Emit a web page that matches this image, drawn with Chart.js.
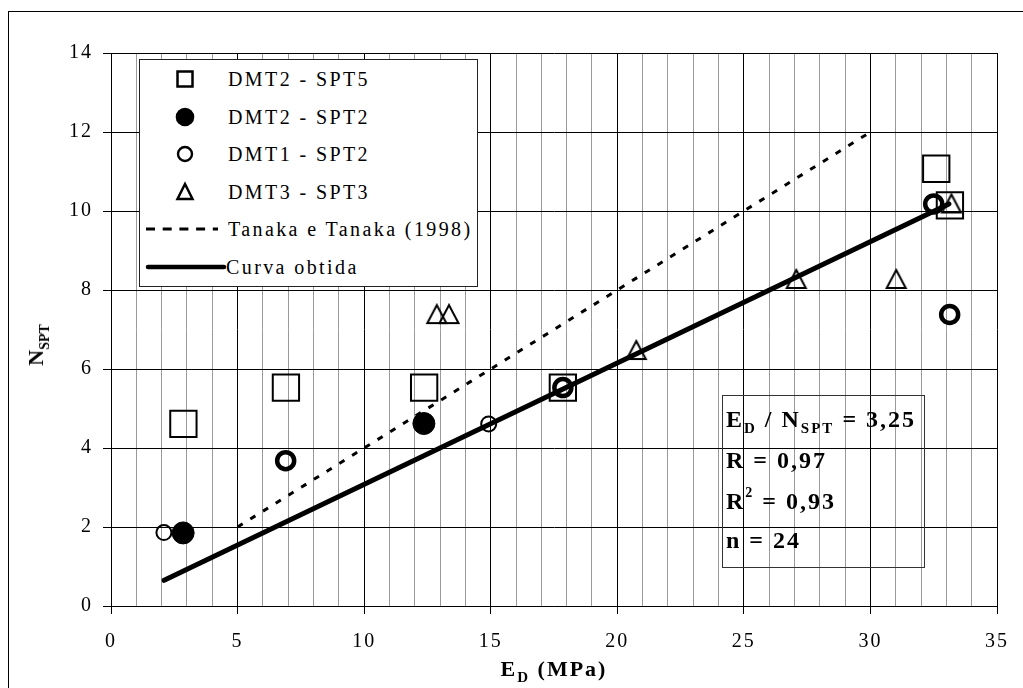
<!DOCTYPE html>
<html lang="pt">
<head>
<meta charset="utf-8">
<title>NSPT x ED</title>
<script src="https://cdn.jsdelivr.net/npm/chart.js@4.4.1/dist/chart.umd.min.js"></script>
<style>
  html, body { margin: 0; padding: 0; background: #fff; }
  #wrap { position: relative; width: 1023px; height: 688px; overflow: hidden;
          font-family: "Liberation Serif", "Times New Roman", serif; color: #000; }
  #moldura { position: absolute; left: 8px; top: 11px; width: 1100px; height: 800px;
             border-left: 1px solid #000; border-top: 1px solid #000; }
  canvas { position: absolute; left: 0; top: 0; }
  #legenda { position: absolute; left: 139px; top: 59px; width: 339px; height: 228px;
             box-sizing: border-box; background: #fff; border: 1px solid #222; }
  #legenda .linha { position: absolute; left: 0; height: 24px; width: 337px; }
  #legenda svg { position: absolute; left: 0; top: 0; }
  #legenda span { position: absolute; left: 88px; top: 0; font-size: 20px; line-height: 24px;
                  letter-spacing: 2.4px; white-space: nowrap; }
  #estat { position: absolute; left: 722px; top: 395px; width: 203px; height: 173px;
           box-sizing: border-box; border: 1px solid #333; }
  #estat div { position: absolute; left: 3px; font-size: 24px; font-weight: bold; line-height: 28px;
               letter-spacing: 2px; white-space: nowrap; }
  sub, sup { line-height: 0; font-size: 15px; }
  #estat sub { vertical-align: -6px; }
  #estat sup { vertical-align: 12px; font-size: 14px; }
  #tituloX { position: absolute; left: 554px; top: 658px; transform: translateX(-50%);
             font-size: 22px; font-weight: bold; line-height: 22px; letter-spacing: 2px; white-space: nowrap; }
  #tituloX sub { vertical-align: -6px; }
  #tituloY { position: absolute; left: 36px; top: 345px; transform: translate(-50%, -50%) rotate(-90deg);
             font-size: 22px; font-weight: bold; line-height: 22px; white-space: nowrap; }
  #tituloY sub { vertical-align: -6px; font-size: 14px; }
</style>
</head>
<body>
<div id="wrap">
  <div id="moldura"></div>
  <canvas id="grafico" width="1023" height="688"></canvas>

  <div id="legenda">
    <div class="linha" style="top:7px">
      <svg width="90" height="24"><rect x="37.5" y="4.5" width="15" height="15" fill="none" stroke="#000" stroke-width="2.5"/></svg>
      <span>DMT2 - SPT5</span>
    </div>
    <div class="linha" style="top:45px">
      <svg width="90" height="24"><circle cx="45" cy="12" r="9.3" fill="#000"/></svg>
      <span>DMT2 - SPT2</span>
    </div>
    <div class="linha" style="top:82px">
      <svg width="90" height="24"><circle cx="45" cy="12" r="7" fill="none" stroke="#000" stroke-width="2.4"/></svg>
      <span>DMT1 - SPT2</span>
    </div>
    <div class="linha" style="top:120px">
      <svg width="90" height="24"><polygon points="45,4 52.5,19 37.5,19" fill="none" stroke="#000" stroke-width="2.5"/></svg>
      <span>DMT3 - SPT3</span>
    </div>
    <div class="linha" style="top:157px">
      <svg width="90" height="24"><line x1="6" y1="12" x2="78" y2="12" stroke="#000" stroke-width="3" stroke-dasharray="9 7.7"/></svg>
      <span>Tanaka e Tanaka (1998)</span>
    </div>
    <div class="linha" style="top:195px">
      <svg width="90" height="24"><line x1="8" y1="12" x2="84" y2="12" stroke="#000" stroke-width="4.5" stroke-linecap="round"/></svg>
      <span style="left:86px">Curva obtida</span>
    </div>
  </div>

  <div id="estat">
    <div style="top:9px">E<sub>D</sub> / N<sub>SPT</sub> = 3,25</div>
    <div style="top:50px">R = 0,97</div>
    <div style="top:91px">R<sup>2</sup> = 0,93</div>
    <div style="top:130px">n = 24</div>
  </div>

  <div id="tituloX">E<sub>D</sub> (MPa)</div>
  <div id="tituloY">N<sub>SPT</sub></div>
</div>

<script>
// eixos
const xTickLabels = [0, 5, 10, 15, 20, 25, 30, 35];
const yTickLabels = [0, 2, 4, 6, 8, 10, 12, 14];

// DMT2 - SPT5 (quadrados)
const edDmt2Spt5 = [2.86, 6.91, 12.37, 17.85, 32.6, 33.14];
const nDmt2Spt5 = [4.61, 5.53, 5.53, 5.53, 11.07, 10.14];

// DMT2 - SPT2 (círculos cheios)
const edDmt2Spt2 = [2.85, 12.36];
const nDmt2Spt2 = [1.85, 4.62];

// DMT1 - SPT2 (círculos vazados)
const edDmt1Spt2 = [2.09, 14.92];
const nDmt1Spt2 = [1.86, 4.61];
const edDmt1Spt2b = [6.9, 17.85, 32.5, 33.13];
const nDmt1Spt2b = [3.68, 5.53, 10.18, 7.38];

// DMT3 - SPT3 (triângulos)
const edDmt3Spt3 = [12.87, 13.35, 20.75, 27.07, 31.02, 33.2];
const nDmt3Spt3 = [7.39, 7.39, 6.48, 8.28, 8.28, 10.19];

// retas
const edTanaka = [5, 30];
const nTanaka = [2, 12];
const edCurva = [2.1, 33.1];
const nCurva = [0.65, 10.18];

function pares(xs, ys) {
    return xs.map(function(x, i) { return { x: x, y: ys[i] }; });
}

// marcador triangular centrado na caixa (como no Excel)
function triangulo() {
    const c = document.createElement("canvas");
    c.width = 24;
    c.height = 22;
    const g = c.getContext("2d");
    g.lineWidth = 2;
    g.strokeStyle = "#000";
    g.beginPath();
    g.moveTo(12, 2);
    g.lineTo(21.5, 20);
    g.lineTo(2.5, 20);
    g.closePath();
    g.stroke();
    return c;
}

const espacamento = {
    id: "espacamento",
    beforeDraw(chart) {
        chart.ctx.letterSpacing = "2px";
    }
};

const fonteEixo = { family: "'Liberation Serif', 'Times New Roman', serif", size: 20 };

new Chart(document.getElementById("grafico"), {
    type: "scatter",
    data: {
        datasets: [
            {
                type: "line",
                label: "Curva obtida",
                data: pares(edCurva, nCurva),
                borderColor: "#000",
                borderWidth: 5,
                borderCapStyle: "round",
                pointRadius: 0,
                showLine: true
            },
            {
                type: "line",
                label: "Tanaka e Tanaka (1998)",
                data: pares(edTanaka, nTanaka),
                borderColor: "#000",
                borderWidth: 3,
                borderDash: [6, 9],
                pointRadius: 0,
                showLine: true
            },
            {
                label: "DMT2 - SPT5",
                data: pares(edDmt2Spt5, nDmt2Spt5),
                pointStyle: "rect",
                pointRadius: 18.6,
                pointBorderWidth: 2,
                borderColor: "#000",
                backgroundColor: "rgba(0,0,0,0)"
            },
            {
                label: "DMT2 - SPT2",
                data: pares(edDmt2Spt2, nDmt2Spt2),
                pointStyle: "circle",
                pointRadius: 11,
                pointBorderWidth: 1,
                borderColor: "#000",
                backgroundColor: "#000"
            },
            {
                label: "DMT1 - SPT2",
                data: pares(edDmt1Spt2, nDmt1Spt2),
                pointStyle: "circle",
                pointRadius: 7.5,
                pointBorderWidth: 2,
                borderColor: "#000",
                backgroundColor: "rgba(0,0,0,0)"
            },
            {
                label: "DMT1 - SPT2 *",
                data: pares(edDmt1Spt2b, nDmt1Spt2b),
                pointStyle: "circle",
                pointRadius: 8.5,
                pointBorderWidth: 4.5,
                borderColor: "#000",
                backgroundColor: "rgba(0,0,0,0)"
            },
            {
                label: "DMT3 - SPT3",
                data: pares(edDmt3Spt3, nDmt3Spt3),
                pointStyle: triangulo(),
                pointRadius: 11,
                borderColor: "#000",
                backgroundColor: "rgba(0,0,0,0)"
            }
        ]
    },
    options: {
        responsive: false,
        animation: false,
        devicePixelRatio: 1,
        layout: { padding: { top: 53, right: 25, bottom: 0, left: 0 } },
        plugins: {
            legend: { display: false },
            tooltip: { enabled: false }
        },
        scales: {
            x: {
                type: "linear",
                min: 0,
                max: 35,
                ticks: {
                    stepSize: 1,
                    autoSkip: false,
                    maxRotation: 0,
                    padding: 16,
                    color: "#000",
                    font: fonteEixo,
                    callback: function(v) { return xTickLabels.includes(v) ? String(v) : ""; }
                },
                grid: {
                    lineWidth: 1,
                    tickLength: 8,
                    color: function(c) { return c.tick && c.tick.value % 5 === 0 ? "#000" : "#9a9a9a"; },
                    tickColor: function(c) { return c.tick && c.tick.value % 5 === 0 ? "#000" : "rgba(0,0,0,0)"; }
                },
                border: { color: "#000", width: 1 },
                afterFit: function(s) { s.height = 82; }
            },
            y: {
                type: "linear",
                min: 0,
                max: 14,
                ticks: {
                    stepSize: 2,
                    padding: 10,
                    color: "#000",
                    font: fonteEixo,
                    callback: function(v) { return yTickLabels.includes(v) ? String(v) : ""; }
                },
                grid: { lineWidth: 1, tickLength: 8, color: "#000", tickColor: "#000" },
                border: { color: "#000", width: 1 },
                afterFit: function(s) { s.width = 111; }
            }
        }
    },
    plugins: [espacamento]
});
</script>
</body>
</html>
